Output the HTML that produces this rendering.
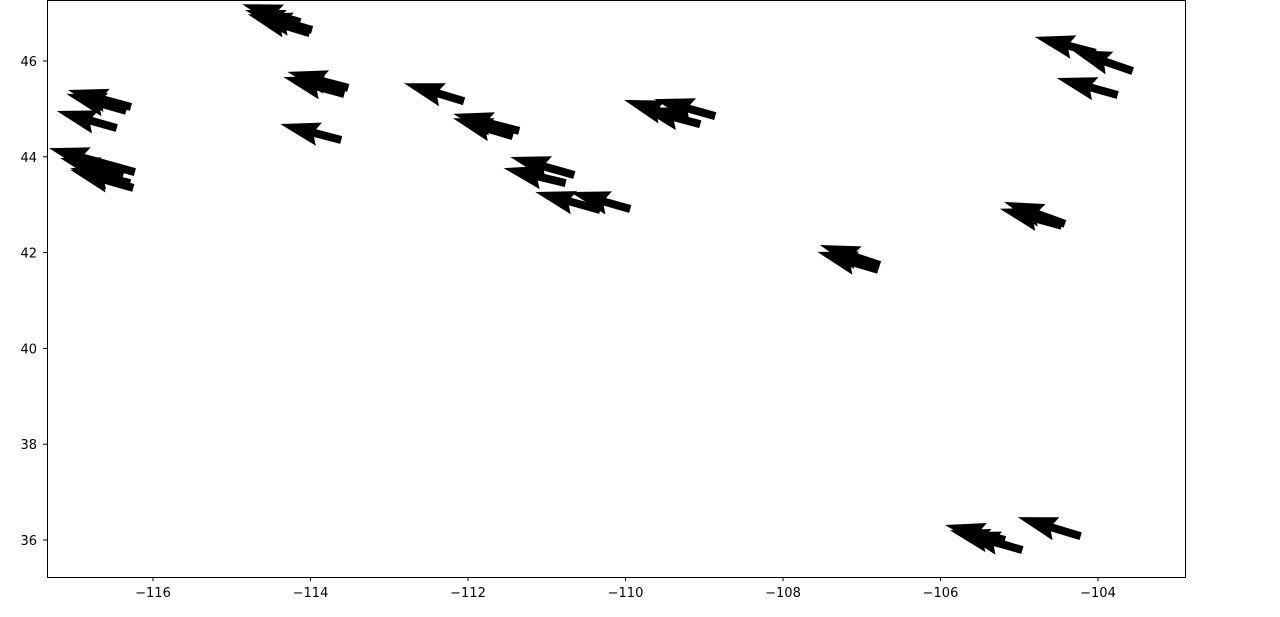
<!DOCTYPE html>
<html><head><meta charset="utf-8"><style>
body{margin:0;background:#fff;font-family:"Liberation Sans","DejaVu Sans",sans-serif}
svg text{font-family:"DejaVu Sans","Liberation Sans",sans-serif;font-size:13px}
</style></head><body>
<svg id="chart" width="1280" height="612" xmlns="http://www.w3.org/2000/svg">
<rect x="0" y="0" width="1280" height="612" fill="#fff"/>
<g id="arrows"></g>
<rect x="47.5" y="0.5" width="1138" height="577" fill="none" stroke="#000" stroke-width="1"/>
<g id="xticks"></g>
<g id="yticks"></g>
</svg>
<script>
const lon=[-114.13,-114.07,-114.01,-113.98,-116.28,-116.34,-116.46,-116.23,-116.38,-116.25,-116.29,-113.52,-113.57,-113.61,-112.05,-111.35,-111.43,-110.65,-110.76,-110.32,-109.94,-109.22,-108.86,-109.05,-106.77,-106.79,-104.42,-104.46,-104.03,-103.56,-103.75,-105.18,-104.96,-105.12,-104.22];
const lat=[46.81,46.69,46.58,46.65,45.04,44.96,44.60,43.68,43.60,43.35,43.45,45.44,45.31,44.35,45.16,44.54,44.43,43.62,43.45,42.89,42.91,44.77,44.85,44.68,41.74,41.64,42.60,42.56,46.17,45.79,45.29,36.00,35.79,35.87,36.08];
const u=[-5.8,-6.0,-6.2,-6.0,-6.3,-6.0,-6.0,-8.6,-6.3,-6.3,-6.0,-6.1,-6.1,-6.1,-6.0,-6.6,-6.0,-6.4,-6.2,-6.5,-6.0,-6.3,-6.1,-6.0,-6.0,-6.1,-6.1,-6.2,-6.1,-6.1,-6.1,-6.0,-6.2,-6.0,-6.3];
const v=[1.8,1.8,1.9,1.6,1.7,1.7,1.7,2.4,1.8,1.8,1.5,1.6,1.7,1.6,1.8,1.7,1.8,1.8,1.5,1.8,1.7,2.0,1.7,1.6,2.0,1.8,2.2,1.7,1.6,2.1,1.7,1.5,1.8,1.6,1.9];
const xTicks=[-116,-114,-112,-110,-108,-106,-104];
const yTicks=[36,38,40,42,44,46];
const NS='http://www.w3.org/2000/svg';
function xs(d){return 153+(d+116)*78.75;}
function ys(d){return 61+(46-d)*47.9;}
const SC=10;
const g=document.getElementById('arrows');
const clip=document.createElementNS(NS,'clipPath');clip.setAttribute('id','cp');
const cr=document.createElementNS(NS,'rect');cr.setAttribute('x',47);cr.setAttribute('y',0);cr.setAttribute('width',1138);cr.setAttribute('height',577);
clip.appendChild(cr);document.getElementById('chart').appendChild(clip);
g.setAttribute('clip-path','url(#cp)');
for(let i=0;i<lon.length;i++){
  const x0=xs(lon[i]),y0=ys(lat[i]);
  const dx=u[i]*SC,dy=-v[i]*SC;
  const L=Math.hypot(dx,dy),ang=Math.atan2(dy,dx)*180/Math.PI;
  const pts=[[0,-4],[L-36,-4],[L-40,-12],[L,0],[L-40,12],[L-36,4],[0,4]];
  const p=document.createElementNS(NS,'polygon');
  p.setAttribute('points',pts.map(a=>a.join(',')).join(' '));
  p.setAttribute('transform',`translate(${x0},${y0}) rotate(${ang})`);
  p.setAttribute('fill','#000');
  
  
  g.appendChild(p);
}
const xg=document.getElementById('xticks');
xTicks.forEach(t=>{
  const x=xs(t);
  const l=document.createElementNS(NS,'line');
  l.setAttribute('x1',x);l.setAttribute('x2',x);l.setAttribute('y1',577);l.setAttribute('y2',581);l.setAttribute('stroke','#000');
  
  
  xg.appendChild(l);
  const tx=document.createElementNS(NS,'text');
  tx.setAttribute('x',x);tx.setAttribute('y',597);tx.setAttribute('text-anchor','middle');
  tx.textContent='\u2212'+Math.abs(t);
  
  
  xg.appendChild(tx);
});
const yg=document.getElementById('yticks');
yTicks.forEach(t=>{
  const y=ys(t);
  const l=document.createElementNS(NS,'line');
  l.setAttribute('x1',43);l.setAttribute('x2',47);l.setAttribute('y1',y);l.setAttribute('y2',y);l.setAttribute('stroke','#000');
  
  
  yg.appendChild(l);
  const tx=document.createElementNS(NS,'text');
  tx.setAttribute('x',37);tx.setAttribute('y',y+5);tx.setAttribute('text-anchor','end');
  tx.textContent=t;
  
  
  yg.appendChild(tx);
});
</script>
</body></html>
